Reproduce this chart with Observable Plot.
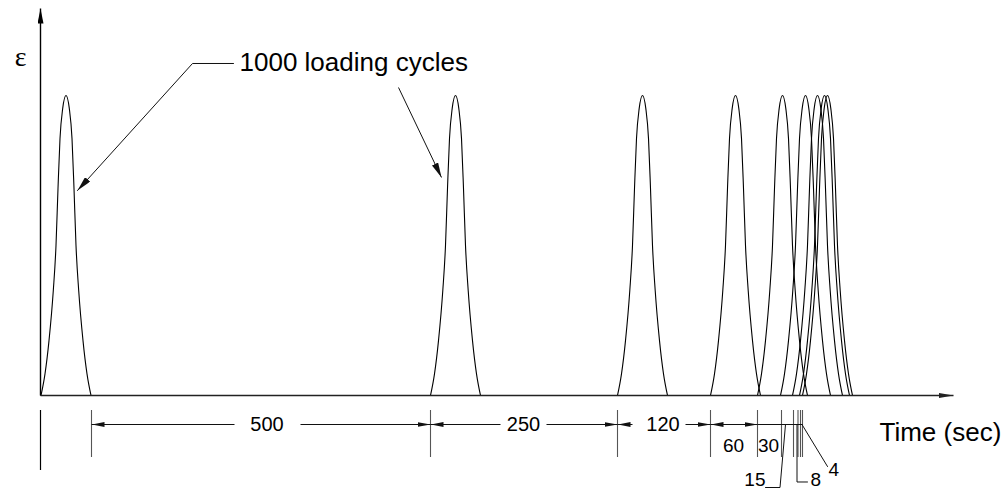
<!DOCTYPE html>
<html><head><meta charset="utf-8">
<script src="https://cdn.jsdelivr.net/npm/d3@7"></script>
<script src="https://cdn.jsdelivr.net/npm/@observablehq/plot@0.6"></script>
<style>html,body{margin:0;padding:0;background:#fff}#chart svg{display:block}</style>
</head><body><div id="chart"></div>
<script>
// ---------- data (schematic units: x = drawing position along time axis, y = ε / ε_peak) ----------
const pulseCenters  = [25.5, 415, 602, 695, 742, 765, 777, 784, 787];
const profileOffset = [0, 3.3, 6, 8, 10, 12.7, 17, 21, 25];
const profileValue  = [1, 0.957, 0.857, 0.69, 0.5, 0.35, 0.183, 0.072, 0];

const restLabels    = ["500", "250", "120", "60", "30", "15", "8", "4"];
const extensionX    = [51, 390, 577, 670, 717, 741, 753, 757.5, 760, 762];
const dimSegX1      = [51, 260, 390, 506, 577, 645, 670, 717];
const dimSegX2      = [194, 390, 460, 577, 592, 670, 717, 762];
const dimSegArrow   = ["start", "end", "start", "end", "start", "end", "both", "none"];
const restLabelX    = [226.5, 483, 622.5, 693, 728, 725, 770, 788];
const restLabelY    = [-0.0967, -0.0967, -0.0967, -0.1667, -0.1667, -0.28, -0.282, -0.2467];
const restLabelAnchor = ["middle", "middle", "middle", "middle", "middle", "end", "start", "start"];
const dimY = -0.0967;
const extY = [-0.05, -0.2067];

const leader15 = [[725, -0.3067], [739.5, -0.3067], [745, dimY]];
const leader8  = [[756.5, dimY], [756.5, -0.2883], [767, -0.2883]];
const leader4  = [[761.5, dimY], [787, -0.2367]];

const cycleText = "1000 loading cycles";
const cycleLeader = [[193, 1.1067], [152, 1.1067], [37, 0.6833]];
const cycleArrow2 = [[358, 1.0267], [401, 0.7267]];
const textAnchors = {cycles: [199, 1.11], time: [839, -0.1233], eps: [-20, 1.1267]};
const axisY = {bottom: 0, top: 1.29};
const axisX = {left: 0, right: 913};

// ---------- build ----------
const pulsePoints = pulseCenters.flatMap((c, i) => {
  const left = profileOffset.map((o, j) => ({pulse: i, x: c - o, y: profileValue[j]})).reverse();
  const right = profileOffset.slice(1).map((o, j) => ({pulse: i, x: c + o, y: profileValue[j + 1]}));
  return [...left, ...right];
});

const tri = (len, half) => (color) => {
  const m = d3.create("svg:marker")
    .attr("viewBox", `0 ${-half} ${len} ${2 * half}`)
    .attr("markerWidth", len).attr("markerHeight", 2 * half)
    .attr("markerUnits", "userSpaceOnUse")
    .attr("refX", len).attr("refY", 0)
    .attr("orient", "auto-start-reverse");
  m.append("path").attr("d", `M0,${-half}L${len},0L0,${half}Z`).attr("fill", color).attr("stroke", "none");
  const el = m.node();
  el.node = () => el;
  return el;
};
const dimArrow = tri(13, 2.4);
const leadArrow = tri(15, 3.4);

const segs = dimSegX1.map((x1, i) => ({x1, x2: dimSegX2[i], a: dimSegArrow[i]}));
const segMark = (kind, opts) => Plot.link(segs.filter(d => d.a === kind),
  {x1: "x1", x2: "x2", y1: dimY, y2: dimY, stroke: "#111", strokeWidth: 1, ...opts});

const labels = restLabels.map((t, i) => ({t, x: restLabelX[i], y: restLabelY[i], a: restLabelAnchor[i], big: i < 3}));
const font = "Liberation Sans, Arial, Helvetica, sans-serif";

const chart = Plot.plot({
  width: 1008, height: 491,
  x: {domain: [0, 913], range: [40, 953], axis: null},
  y: {domain: [0, 1], range: [395, 95], axis: null},
  style: {background: "#fff"},
  marks: [
    // pulses
    Plot.line(pulsePoints, {x: "x", y: "y", z: "pulse", curve: "monotone-x", stroke: "#000", strokeWidth: 1.1}),
    // axes
    Plot.link([0], {x1: axisX.left, x2: axisX.left, y1: axisY.bottom, y2: axisY.top, stroke: "#000", strokeWidth: 1.4, markerEnd: tri(15, 3)}),
    Plot.link([0], {x1: axisX.left, x2: axisX.right, y1: 0, y2: 0, stroke: "#222", strokeWidth: 1.4, markerEnd: tri(15, 2.6)}),
    // extension lines
    Plot.ruleX([0], {y1: extY[0], y2: -0.25, stroke: "#000", strokeWidth: 1.2}),
    Plot.ruleX(extensionX, {x: d => d, y1: extY[0], y2: extY[1], stroke: "#555", strokeWidth: 1.1}),
    // dimension line
    segMark("start", {markerStart: dimArrow}),
    segMark("end", {markerEnd: dimArrow}),
    segMark("both", {markerStart: dimArrow, markerEnd: dimArrow}),
    segMark("none", {}),
    // leaders for small rests
    Plot.line(leader15, {x: d => d[0], y: d => d[1], stroke: "#111", strokeWidth: 1}),
    Plot.line(leader8, {x: d => d[0], y: d => d[1], stroke: "#111", strokeWidth: 1}),
    Plot.line(leader4, {x: d => d[0], y: d => d[1], stroke: "#111", strokeWidth: 1}),
    // rest labels
    Plot.text(labels.filter(d => d.big), {x: "x", y: "y", text: "t", textAnchor: "middle", fontSize: 20, fontFamily: font, fill: "#000"}),
    Plot.text(labels.filter(d => !d.big && d.a === "middle"), {x: "x", y: "y", text: "t", textAnchor: "middle", fontSize: 19, fontFamily: font, fill: "#000"}),
    Plot.text(labels.filter(d => !d.big && d.a === "end"), {x: "x", y: "y", text: "t", textAnchor: "end", fontSize: 19, fontFamily: font, fill: "#000"}),
    Plot.text(labels.filter(d => !d.big && d.a === "start"), {x: "x", y: "y", text: "t", textAnchor: "start", fontSize: 19, fontFamily: font, fill: "#000"}),
    // loading cycles annotation
    Plot.line(cycleLeader, {x: d => d[0], y: d => d[1], stroke: "#111", strokeWidth: 1, markerEnd: leadArrow}),
    Plot.link([cycleArrow2], {x1: d => d[0][0], y1: d => d[0][1], x2: d => d[1][0], y2: d => d[1][1], stroke: "#111", strokeWidth: 1, markerEnd: leadArrow}),
    Plot.text([cycleText], {x: textAnchors.cycles[0], y: textAnchors.cycles[1], text: d => d, textAnchor: "start", fontSize: 26, fontFamily: font, fill: "#000"}),
    Plot.text(["Time (sec)"], {x: textAnchors.time[0], y: textAnchors.time[1], text: d => d, textAnchor: "start", fontSize: 26, fontFamily: font, fill: "#000"}),
    Plot.text(["ε"], {x: textAnchors.eps[0], y: textAnchors.eps[1], text: d => d, textAnchor: "middle", fontSize: 28, fontFamily: "Liberation Serif, Times New Roman, serif", fill: "#000"})
  ]
});
document.getElementById("chart").appendChild(chart);
</script>
</body></html>
